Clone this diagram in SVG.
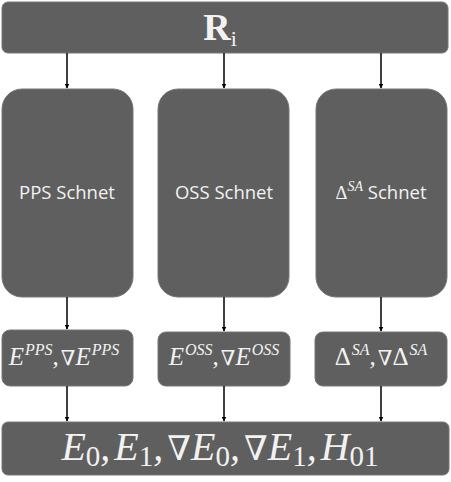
<svg xmlns="http://www.w3.org/2000/svg" width="451" height="482" viewBox="0 0 451 482">
<defs>
<style>
.box{fill:#5f5f5f;stroke:#777;stroke-width:1}
.lbl{fill:#f2f2f2;font-family:"Open Sans","Liberation Sans",sans-serif;font-size:18.5px;text-anchor:middle}
.math{fill:#f2f2f2;font-family:"Liberation Serif",serif;font-style:italic;text-anchor:middle}
.up{font-style:normal}
.nab{font-family:"DejaVu Serif",serif;font-style:normal;font-weight:normal}
.conn line{stroke:#000;stroke-width:1.5;marker-end:url(#ah)}
</style>
<marker id="ah" viewBox="0 0 10 10" refX="9" refY="5" markerWidth="5" markerHeight="5" orient="auto" markerUnits="userSpaceOnUse">
<path d="M0,0 L10,5 L0,10 z" fill="#000"/>
</marker>
</defs>
<rect width="451" height="482" fill="#fff"/>
<g id="top">
<rect class="box" x="2" y="2" width="446" height="51" rx="6"/>
<text x="220" y="40" fill="#f2f2f2" font-family="Liberation Serif,serif" font-weight="bold" font-size="38" text-anchor="middle">R<tspan font-size="22" font-weight="normal" dy="6">i</tspan></text>
</g>
<g id="pps">
<rect class="box" x="2" y="89" width="131" height="208" rx="20"/>
<text class="lbl" x="67" y="199">PPS Schnet</text>
</g>
<g id="oss">
<rect class="box" x="158" y="89" width="131" height="208" rx="20"/>
<text class="lbl" x="224" y="199">OSS Schnet</text>
</g>
<g id="sa">
<rect class="box" x="316" y="89" width="131" height="208" rx="20"/>
<text class="lbl" x="381" y="199"><tspan font-family="Liberation Serif,serif">Δ</tspan><tspan font-family="Liberation Serif,serif" font-style="italic" font-size="14" dy="-8">SA</tspan><tspan dy="8"> Schnet</tspan></text>
</g>
<g id="pps-out">
<rect class="box" x="2" y="330" width="131" height="56" rx="8"/>
<text class="math" x="64" y="365" font-size="25">E<tspan font-size="16" dy="-10" dx="1">PPS</tspan><tspan dy="10">,</tspan><tspan class="nab" dx="2" font-size="21">∇</tspan>E<tspan font-size="16" dy="-10" dx="1">PPS</tspan></text>
</g>
<g id="oss-out">
<rect class="box" x="158" y="332" width="132" height="54" rx="8"/>
<text class="math" x="224" y="365" font-size="25">E<tspan font-size="16" dy="-10" dx="1">OSS</tspan><tspan dy="10">,</tspan><tspan class="nab" dx="2" font-size="21">∇</tspan>E<tspan font-size="16" dy="-10" dx="1">OSS</tspan></text>
</g>
<g id="sa-out">
<rect class="box" x="315" y="332" width="132" height="54" rx="8"/>
<text class="math" x="381" y="365" font-size="25"><tspan class="up">Δ</tspan><tspan font-size="16" dy="-10" dx="1">SA</tspan><tspan dy="10">,</tspan><tspan class="nab" dx="2" font-size="21">∇</tspan><tspan class="up">Δ</tspan><tspan font-size="16" dy="-10" dx="1">SA</tspan></text>
</g>
<g id="bottom">
<rect class="box" x="2" y="422" width="447" height="53" rx="6"/>
<text class="math" x="220" y="460" font-size="40">E<tspan class="up" font-size="29" dy="6">0</tspan><tspan dy="-6">,</tspan><tspan dx="4">E</tspan><tspan class="up" font-size="29" dy="6">1</tspan><tspan dy="-6">,</tspan><tspan class="nab" dx="4" font-size="34">∇</tspan>E<tspan class="up" font-size="29" dy="6">0</tspan><tspan dy="-6">,</tspan><tspan class="nab" dx="4" font-size="34">∇</tspan>E<tspan class="up" font-size="29" dy="6">1</tspan><tspan dy="-6">,</tspan><tspan dx="4">H</tspan><tspan class="up" font-size="29" dy="6">01</tspan></text>
</g>
<g id="connectors" class="conn">
<line x1="67" y1="53" x2="67" y2="88"/>
<line x1="224" y1="53" x2="224" y2="88"/>
<line x1="381" y1="53" x2="381" y2="88"/>
<line x1="67" y1="297" x2="67" y2="329"/>
<line x1="224" y1="297" x2="224" y2="331"/>
<line x1="381" y1="297" x2="381" y2="331"/>
<line x1="67" y1="386" x2="67" y2="421"/>
<line x1="224" y1="386" x2="224" y2="421"/>
<line x1="381" y1="386" x2="381" y2="421"/>
</g>
</svg>
